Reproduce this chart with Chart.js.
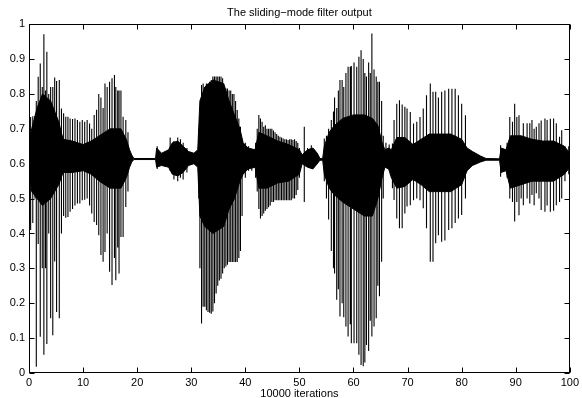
<!DOCTYPE html>
<html>
<head>
<meta charset="utf-8">
<script src="https://cdn.jsdelivr.net/npm/chart.js@4"></script>
<style>
  body { margin: 0; background: #fff; }
  canvas { display: block; }
</style>
</head>
<body>
<canvas id="filterChart" width="582" height="398"></canvas>
<script>
// axis ticks
const xTicks = [0, 10, 20, 30, 40, 50, 60, 70, 80, 90, 100];
const yTicks = [0, 0.1, 0.2, 0.3, 0.4, 0.5, 0.6, 0.7, 0.8, 0.9, 1];

// dense middle band of the output: [x, top, bottom]
const coreEnvelope = [
  [0, 0.66, 0.58], [0.5, 0.70, 0.52], [1.5, 0.76, 0.50], [2.5, 0.80, 0.48], [4, 0.78, 0.50],
  [5.5, 0.72, 0.54], [6.3, 0.67, 0.575], [8, 0.665, 0.575], [10, 0.655, 0.58], [11.5, 0.665, 0.57],
  [13, 0.68, 0.55], [15, 0.70, 0.53], [17, 0.70, 0.53], [18, 0.67, 0.56], [18.6, 0.64, 0.59],
  [19.0, 0.625, 0.605], [19.4, 0.615, 0.612], [23.4, 0.615, 0.612], [23.6, 0.645, 0.59],
  [24.5, 0.63, 0.595], [25.8, 0.64, 0.59], [26.5, 0.66, 0.57], [27.5, 0.665, 0.565],
  [28.5, 0.65, 0.575], [29.5, 0.635, 0.595], [30.5, 0.63, 0.60], [31.2, 0.64, 0.59],
  [31.6, 0.78, 0.45], [32.5, 0.82, 0.42], [34, 0.84, 0.40], [36, 0.83, 0.42], [37, 0.78, 0.47],
  [38, 0.74, 0.50], [39, 0.70, 0.55], [39.6, 0.66, 0.57], [40.5, 0.645, 0.585], [41.8, 0.64, 0.59],
  [42.5, 0.69, 0.53], [44, 0.68, 0.53], [46, 0.665, 0.545], [48, 0.655, 0.55], [50, 0.64, 0.57],
  [50.5, 0.625, 0.60], [51.5, 0.64, 0.59], [52.5, 0.645, 0.585], [53.3, 0.63, 0.60],
  [53.8, 0.615, 0.61], [54.3, 0.615, 0.61], [54.6, 0.65, 0.57], [55.5, 0.69, 0.53],
  [56.5, 0.71, 0.51], [58, 0.73, 0.49], [60, 0.74, 0.47], [62, 0.74, 0.45], [63.5, 0.73, 0.45],
  [64.5, 0.71, 0.50], [65.3, 0.66, 0.56], [65.8, 0.64, 0.59], [66.5, 0.645, 0.585],
  [67.0, 0.64, 0.56], [68, 0.675, 0.53], [69.5, 0.675, 0.535], [71, 0.655, 0.555], [72.5, 0.67, 0.54],
  [74, 0.685, 0.52], [76, 0.685, 0.52], [78, 0.685, 0.52], [80, 0.67, 0.54], [81, 0.645, 0.58],
  [82, 0.635, 0.595], [83.5, 0.622, 0.605], [84.5, 0.615, 0.61], [87, 0.614, 0.61],
  [87.3, 0.645, 0.575], [88.2, 0.64, 0.58], [89, 0.68, 0.53], [91, 0.68, 0.54], [93, 0.67, 0.55],
  [95, 0.665, 0.55], [97, 0.665, 0.55], [99, 0.65, 0.57], [100, 0.63, 0.59]
];

// oscillation peaks per burst: [x, high, low]
const burst1 = [
  [0.3, 0.734, 0.41], [0.7, 0.736, 0.43], [1.1, 0.737, 0.50], [1.35, 0.78, 0.018], [1.7, 0.849, 0.37],
  [2.08, 0.887, 0.104], [2.45, 0.82, 0.30], [2.75, 0.971, 0.052], [3.05, 0.81, 0.30], [3.3, 0.921, 0.083],
  [3.65, 0.80, 0.40], [4.0, 0.82, 0.157], [4.4, 0.82, 0.108], [4.75, 0.847, 0.32], [5.1, 0.837, 0.175],
  [5.6, 0.84, 0.157], [6.0, 0.758, 0.40], [6.4, 0.745, 0.45], [6.8, 0.735, 0.445], [7.2, 0.735, 0.447],
  [7.6, 0.73, 0.462], [8.05, 0.728, 0.47], [8.5, 0.73, 0.48], [8.95, 0.725, 0.486], [9.4, 0.72, 0.486],
  [9.85, 0.725, 0.495], [10.3, 0.72, 0.497], [10.75, 0.725, 0.50], [11.2, 0.715, 0.48], [11.6, 0.70, 0.457],
  [12.05, 0.74, 0.433], [12.5, 0.755, 0.424], [12.9, 0.80, 0.395], [13.3, 0.79, 0.338], [13.7, 0.76, 0.319],
  [14.05, 0.83, 0.347], [14.45, 0.82, 0.40], [14.9, 0.835, 0.29], [15.35, 0.845, 0.252], [15.8, 0.854, 0.33],
  [16.05, 0.82, 0.266], [16.4, 0.81, 0.36], [16.65, 0.81, 0.285], [17.0, 0.81, 0.39], [17.4, 0.735, 0.39],
  [17.9, 0.725, 0.476], [18.3, 0.69, 0.52]
];
const burst2 = [
  [23.7, 0.65, 0.585], [26.1, 0.675, 0.58], [26.8, 0.665, 0.555], [27.5, 0.675, 0.55],
  [28.0, 0.67, 0.56], [28.5, 0.66, 0.555], [29.2, 0.645, 0.575]
];
const burst3 = [
  [31.4, 0.70, 0.50], [31.6, 0.74, 0.30], [31.9, 0.826, 0.142], [32.2, 0.83, 0.19], [32.5, 0.82, 0.19],
  [32.8, 0.83, 0.18], [33.1, 0.83, 0.175], [33.4, 0.835, 0.173], [33.7, 0.84, 0.17], [34.0, 0.85, 0.176],
  [34.3, 0.85, 0.20], [34.6, 0.85, 0.228], [34.9, 0.85, 0.25], [35.2, 0.85, 0.265], [35.5, 0.85, 0.27],
  [35.8, 0.845, 0.285], [36.1, 0.82, 0.30], [36.4, 0.816, 0.305], [36.7, 0.816, 0.31], [37.0, 0.81, 0.318],
  [37.3, 0.81, 0.318], [37.6, 0.80, 0.318], [37.9, 0.80, 0.318], [38.2, 0.78, 0.318], [38.5, 0.754, 0.318],
  [38.8, 0.73, 0.33], [39.1, 0.706, 0.35], [39.4, 0.668, 0.45], [40.0, 0.66, 0.56], [40.6, 0.65, 0.58],
  [41.2, 0.64, 0.58]
];
const burst4 = [
  [41.9, 0.66, 0.56], [42.2, 0.70, 0.52], [42.5, 0.74, 0.47], [42.8, 0.73, 0.443], [43.1, 0.72, 0.45],
  [43.4, 0.706, 0.457], [43.7, 0.71, 0.465], [44.0, 0.70, 0.47], [44.3, 0.70, 0.475], [44.6, 0.70, 0.48],
  [44.9, 0.70, 0.49], [45.2, 0.695, 0.49], [45.5, 0.69, 0.495], [45.8, 0.685, 0.495], [46.1, 0.68, 0.495],
  [46.4, 0.677, 0.495], [46.7, 0.675, 0.495], [47.0, 0.672, 0.495], [47.3, 0.67, 0.495], [47.6, 0.67, 0.495],
  [47.9, 0.668, 0.495], [48.2, 0.67, 0.495], [48.5, 0.67, 0.495], [48.8, 0.668, 0.50], [49.1, 0.67, 0.50],
  [49.4, 0.665, 0.51], [49.7, 0.66, 0.525], [50.0, 0.645, 0.56], [50.9, 0.706, 0.49], [51.5, 0.645, 0.595],
  [52.2, 0.653, 0.59], [52.8, 0.64, 0.60], [53.3, 0.63, 0.60]
];
const burst5 = [
  [54.6, 0.672, 0.55], [55.0, 0.68, 0.50], [55.4, 0.70, 0.44], [55.9, 0.725, 0.35], [56.3, 0.75, 0.30],
  [56.5, 0.79, 0.285], [56.9, 0.76, 0.21], [57.2, 0.81, 0.24], [57.5, 0.84, 0.162], [57.9, 0.84, 0.20],
  [58.2, 0.82, 0.16], [58.6, 0.86, 0.133], [59.0, 0.878, 0.105], [59.4, 0.878, 0.14], [59.6, 0.88, 0.085],
  [60.1, 0.89, 0.085], [60.6, 0.878, 0.085], [61.0, 0.907, 0.052], [61.4, 0.925, 0.023], [61.8, 0.90, 0.019],
  [62.1, 0.86, 0.03], [62.4, 0.85, 0.08], [62.8, 0.89, 0.063], [63.1, 0.86, 0.15], [63.4, 0.973, 0.105],
  [63.8, 0.87, 0.133], [64.2, 0.85, 0.157], [64.5, 0.835, 0.25], [64.8, 0.835, 0.22], [65.2, 0.78, 0.319],
  [65.5, 0.68, 0.50], [66.0, 0.66, 0.59], [66.6, 0.655, 0.585]
];
const burst6 = [
  [67.2, 0.658, 0.53], [67.5, 0.725, 0.496], [68.0, 0.772, 0.443], [68.5, 0.782, 0.415], [69.0, 0.77, 0.415],
  [69.5, 0.763, 0.457], [69.9, 0.758, 0.477], [70.5, 0.748, 0.481], [71.1, 0.715, 0.495], [71.7, 0.72, 0.50],
  [72.3, 0.734, 0.495], [72.9, 0.758, 0.472], [73.5, 0.796, 0.415], [74.2, 0.83, 0.319], [74.7, 0.806, 0.319],
  [75.2, 0.806, 0.372], [75.7, 0.79, 0.395], [76.3, 0.806, 0.376], [76.9, 0.81, 0.38], [77.6, 0.815, 0.41],
  [78.2, 0.815, 0.415], [78.8, 0.815, 0.43], [79.4, 0.796, 0.443], [80.0, 0.772, 0.453], [80.7, 0.739, 0.50],
  [81.3, 0.64, 0.59], [81.9, 0.635, 0.595], [82.5, 0.63, 0.60], [83.1, 0.625, 0.605]
];
const burst7 = [
  [87.2, 0.653, 0.563], [87.6, 0.635, 0.585], [88.4, 0.66, 0.56], [88.9, 0.734, 0.50], [89.4, 0.72, 0.49],
  [89.8, 0.772, 0.434], [90.2, 0.734, 0.49], [90.6, 0.739, 0.452], [91.0, 0.68, 0.50], [91.4, 0.716, 0.481],
  [92.1, 0.716, 0.50], [92.6, 0.716, 0.486], [93.0, 0.725, 0.51], [93.4, 0.70, 0.481], [93.8, 0.706, 0.515],
  [94.3, 0.716, 0.50], [94.7, 0.724, 0.467], [95.4, 0.73, 0.462], [95.8, 0.725, 0.48], [96.4, 0.729, 0.462],
  [97.0, 0.73, 0.465], [97.5, 0.716, 0.481], [98.1, 0.677, 0.49], [98.5, 0.696, 0.50], [99.1, 0.65, 0.55],
  [99.8, 0.65, 0.57]
];

const FONT = "'Liberation Sans', Arial, Helvetica, sans-serif";

// each peak is drawn as its own vertical stroke (null breaks the line)
function peakStrokes(bursts) {
    const pts = [];
    bursts.forEach(burst => {
        burst.forEach(([x, high, low]) => {
            pts.push({ x: x, y: high }, { x: x, y: low }, { x: x, y: null });
        });
    });
    return pts;
}

// box round the axes with inward ticks on all four sides
const axesBox = {
    id: 'axesBox',
    afterDatasetsDraw(chart) {
        const { ctx, chartArea: a, scales } = chart;
        const tick = 5;
        const L = Math.round(a.left) + 0.5, R = Math.round(a.right) - 0.5;
        const T = Math.round(a.top) + 0.5, B = Math.round(a.bottom) - 0.5;
        ctx.save();
        ctx.strokeStyle = '#000';
        ctx.lineWidth = 1;
        ctx.strokeRect(L, T, R - L, B - T);
        ctx.beginPath();
        xTicks.forEach(v => {
            const px = Math.round(scales.x.getPixelForValue(v)) + 0.5;
            ctx.moveTo(px, B); ctx.lineTo(px, B - tick);
            ctx.moveTo(px, T); ctx.lineTo(px, T + tick);
        });
        yTicks.forEach(v => {
            const py = Math.round(scales.y.getPixelForValue(v)) + 0.5;
            ctx.moveTo(L, py); ctx.lineTo(L + tick, py);
            ctx.moveTo(R, py); ctx.lineTo(R - tick, py);
        });
        ctx.stroke();
        ctx.restore();
    }
};

const ctx = document.getElementById('filterChart').getContext('2d');
new Chart(ctx, {
    type: 'line',
    data: {
        datasets: [
            {
                data: coreEnvelope.map(([x, top]) => ({ x: x, y: top })),
                borderColor: '#000',
                borderWidth: 1,
                pointRadius: 0,
                fill: false
            },
            {
                data: coreEnvelope.map(([x, , bottom]) => ({ x: x, y: bottom })),
                borderColor: '#000',
                backgroundColor: '#000',
                borderWidth: 1,
                pointRadius: 0,
                fill: '-1'
            },
            {
                data: peakStrokes([burst1, burst2, burst3, burst4, burst5, burst6, burst7]),
                borderColor: '#000',
                borderWidth: 1.1,
                pointRadius: 0,
                spanGaps: false,
                fill: false
            }
        ]
    },
    options: {
        responsive: false,
        animation: false,
        devicePixelRatio: 1,
        layout: { padding: { left: 0, right: 8, top: 0, bottom: 0 } },
        plugins: {
            legend: { display: false },
            tooltip: { enabled: false },
            title: {
                display: true,
                text: 'The sliding\u2212mode filter output',
                color: '#000',
                fullSize: false,
                font: { family: FONT, size: 11, weight: 'normal' },
                padding: { top: 6, bottom: 5 }
            }
        },
        scales: {
            x: {
                type: 'linear',
                min: 0,
                max: 100,
                afterBuildTicks: s => { s.ticks = xTicks.map(v => ({ value: v })); },
                afterFit: s => { s.height = 25; },
                grid: { display: false, drawTicks: false },
                border: { display: false },
                ticks: {
                    color: '#000',
                    padding: 3,
                    maxRotation: 0,
                    font: { family: FONT, size: 11 },
                    callback: v => String(v)
                },
                title: {
                    display: true,
                    text: '10000 iterations',
                    color: '#000',
                    padding: 0,
                    font: { family: FONT, size: 11, lineHeight: 0.8 }
                }
            },
            y: {
                min: 0,
                max: 1,
                afterBuildTicks: s => { s.ticks = yTicks.map(v => ({ value: v })); },
                afterFit: s => { s.width = 29; },
                grid: { display: false, drawTicks: false },
                border: { display: false },
                ticks: {
                    color: '#000',
                    padding: 4,
                    font: { family: FONT, size: 11 },
                    callback: v => String(v)
                }
            }
        }
    },
    plugins: [axesBox]
});
</script>
</body>
</html>
